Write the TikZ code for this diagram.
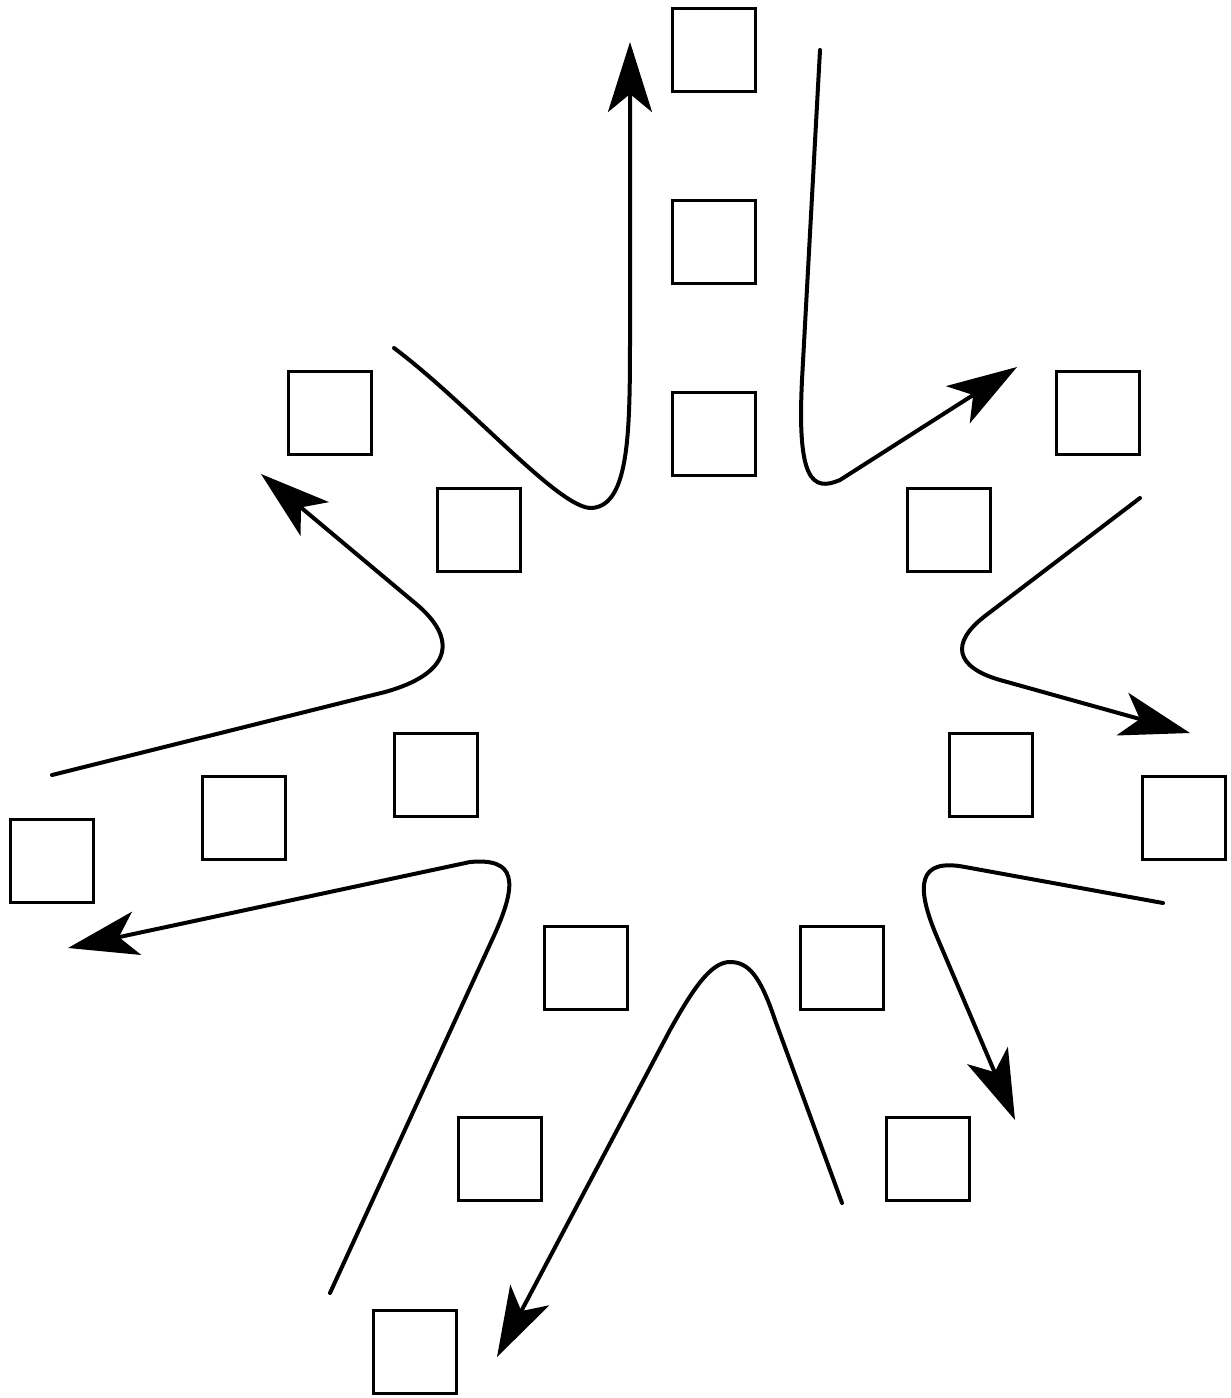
\documentclass[tikz,border=0pt]{standalone}
\usetikzlibrary{arrows.meta}
\begin{document}
\begin{tikzpicture}[x=1pt,y=-1pt,
  box/.style={draw, line width=3pt, minimum size=83pt, inner sep=0pt},
  flow/.style={line width=4pt, line cap=round},
  arr/.style={flow, -{Stealth[length=70pt,width=44pt,inset=18pt]}}]
\useasboundingbox (0,0) rectangle (1231,1398);
% squares
\node[box] (s1) at (714,50) {};
\node[box] (s2) at (714,242) {};
\node[box] (s3) at (714,434) {};
\node[box] (s4) at (330,413) {};
\node[box] (s5) at (478.5,530) {};
\node[box] (s6) at (1098,413) {};
\node[box] (s7) at (949,530) {};
\node[box] (s8) at (436,775) {};
\node[box] (s9) at (244,818) {};
\node[box] (s10) at (51.5,861) {};
\node[box] (s11) at (991,775) {};
\node[box] (s12) at (1184,818) {};
\node[box] (s13) at (586,968) {};
\node[box] (s14) at (842,968) {};
\node[box] (s15) at (500,1159) {};
\node[box] (s16) at (928,1159) {};
\node[box] (s17) at (415,1352) {};
% curve ends
\coordinate (a0) at (394,348); \coordinate (a1) at (630,42);
\coordinate (b0) at (820,50);  \coordinate (b1) at (1017,367);
\coordinate (c0) at (1140,498); \coordinate (c1) at (1190,733);
\coordinate (d0) at (1163,903); \coordinate (d1) at (1015,1120);
\coordinate (e0) at (842,1203); \coordinate (e1) at (497,1357);
\coordinate (f0) at (330,1293); \coordinate (f1) at (68,948);
\coordinate (g0) at (52,775);  \coordinate (g1) at (261,474);
% curves
\draw[arr] (a0) .. controls (470,405) and (560,510) .. (592,508)
  .. controls (630,505) and (630,430) .. (630,330) -- (a1);
\draw[arr] (b0) -- (802,380) .. controls (797,480) and (812,492) .. (840,480) -- (b1);
\draw[arr] (c0) -- (985,616) .. controls (950,643) and (955,667) .. (1000,680) -- (c1);
\draw[arr] (d0) -- (965,867) .. controls (918,858) and (915,885) .. (937,937) -- (d1);
\draw[arr] (e0) -- (775,1020) .. controls (760,975) and (748,962) .. (730,962)
  .. controls (712,962) and (695,985) .. (670,1030) -- (e1);
\draw[arr] (f0) -- (492,940) .. controls (520,880) and (515,858) .. (470,862) -- (f1);
\draw[arr] (g0) -- (385,692) .. controls (450,674) and (460,640) .. (415,603) -- (g1);
\end{tikzpicture}
\end{document}
